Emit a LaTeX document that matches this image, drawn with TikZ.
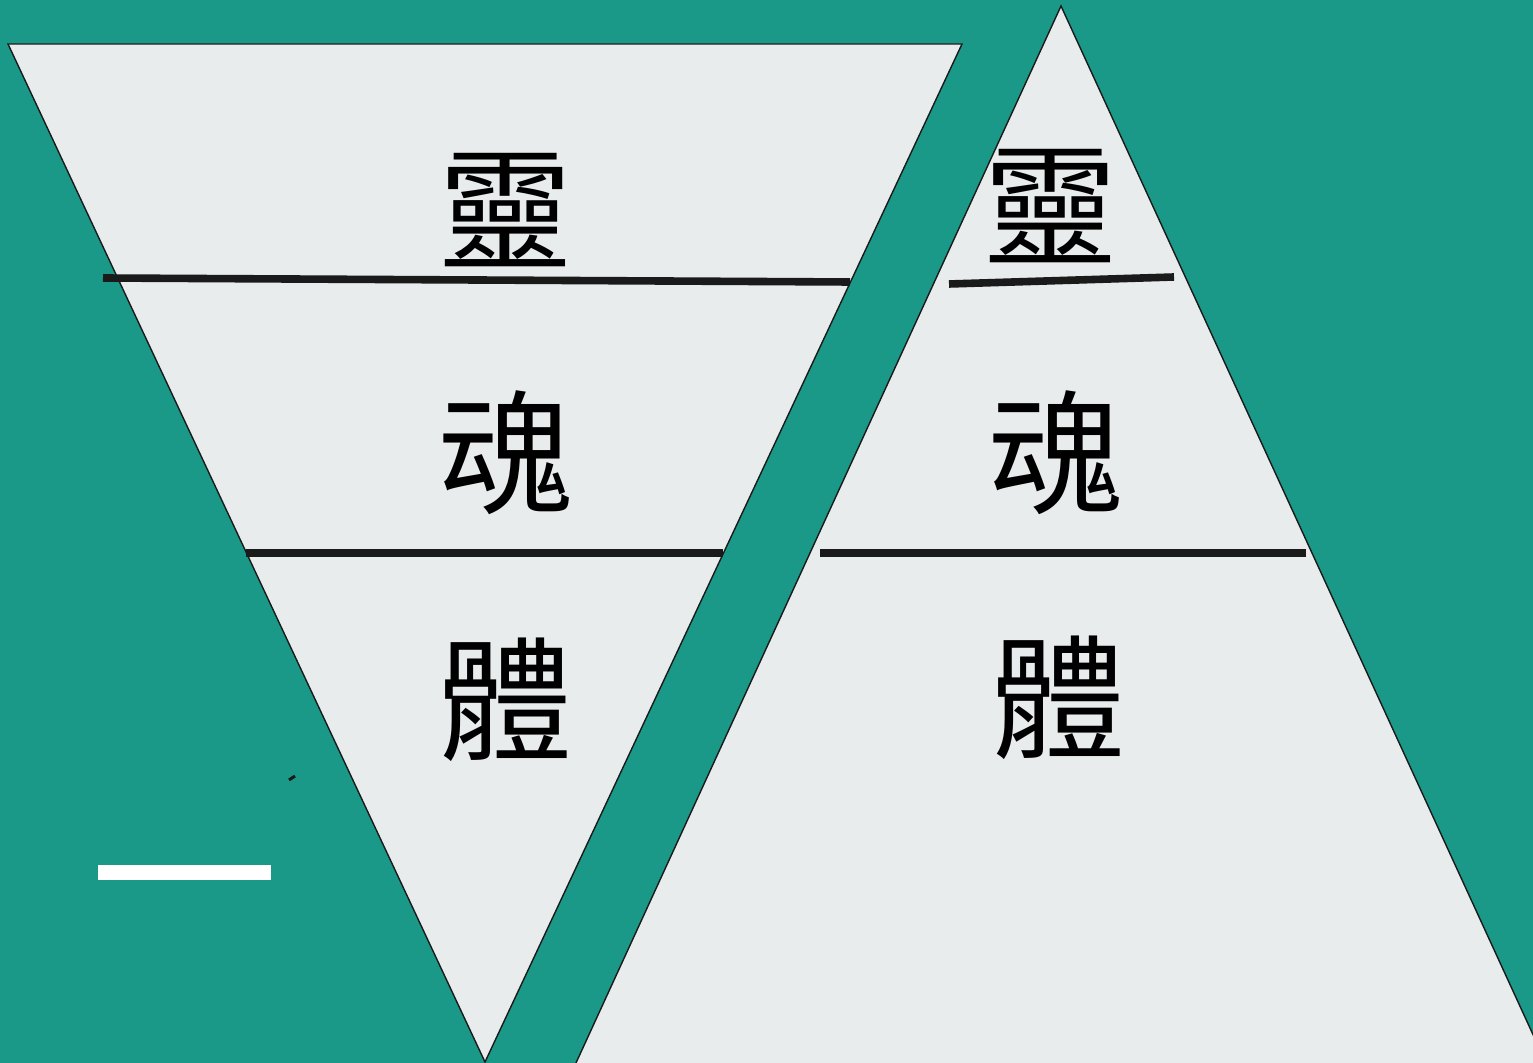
\documentclass[tikz,border=0pt]{standalone}
\usepackage{fontspec}
\newfontfamily\cjk{Noto Sans CJK TC}
\definecolor{bgteal}{HTML}{1B9988}
\definecolor{paper}{HTML}{E8ECEC}
\definecolor{ink}{HTML}{1A1A1A}

\begin{document}
\begin{tikzpicture}[x=0.5pt,y=-0.5pt]
    \tikzstyle{part}=[fill=paper,draw=ink,line width=0.7pt]
    \tikzstyle{bar}=[draw=ink,line width=3.8pt]
    \tikzstyle{word}=[font=\cjk\fontsize{67}{67}\selectfont,inner sep=0pt]

    \useasboundingbox (0,0) rectangle (1533,1063);
    \fill[bgteal] (0,0) rectangle (1533,1063);
    \clip (0,0) rectangle (1533,1063);

    % two triangles
    \draw[part] (8,44) -- (962,44) -- (485,1062) -- cycle;
    \draw[part] (1061,6) -- (1563,1100) -- (559,1100) -- cycle;

    % left: upside down
    \node[word] (spiritL) at (505,210) {靈};
    \node[word] (soulL)   at (505,453) {魂};
    \node[word] (bodyL)   at (505,700) {體};
    \draw[bar] (103,278) -- (850,282);
    \draw[bar] (246,553) -- (723,553);

    % right: upright
    \node[word] (spiritR) at (1050,206) {靈};
    \node[word] (soulR)   at (1055,453) {魂};
    \node[word] (bodyR)   at (1058,698) {體};
    \draw[bar] (949,284) -- (1174,277);
    \draw[bar] (820,553) -- (1306,553);

    % stray marks
    \draw[ink,line width=1.5pt] (289,780) -- (295,776);
    \fill[white] (98,865) rectangle (271,880);
\end{tikzpicture}
\end{document}
